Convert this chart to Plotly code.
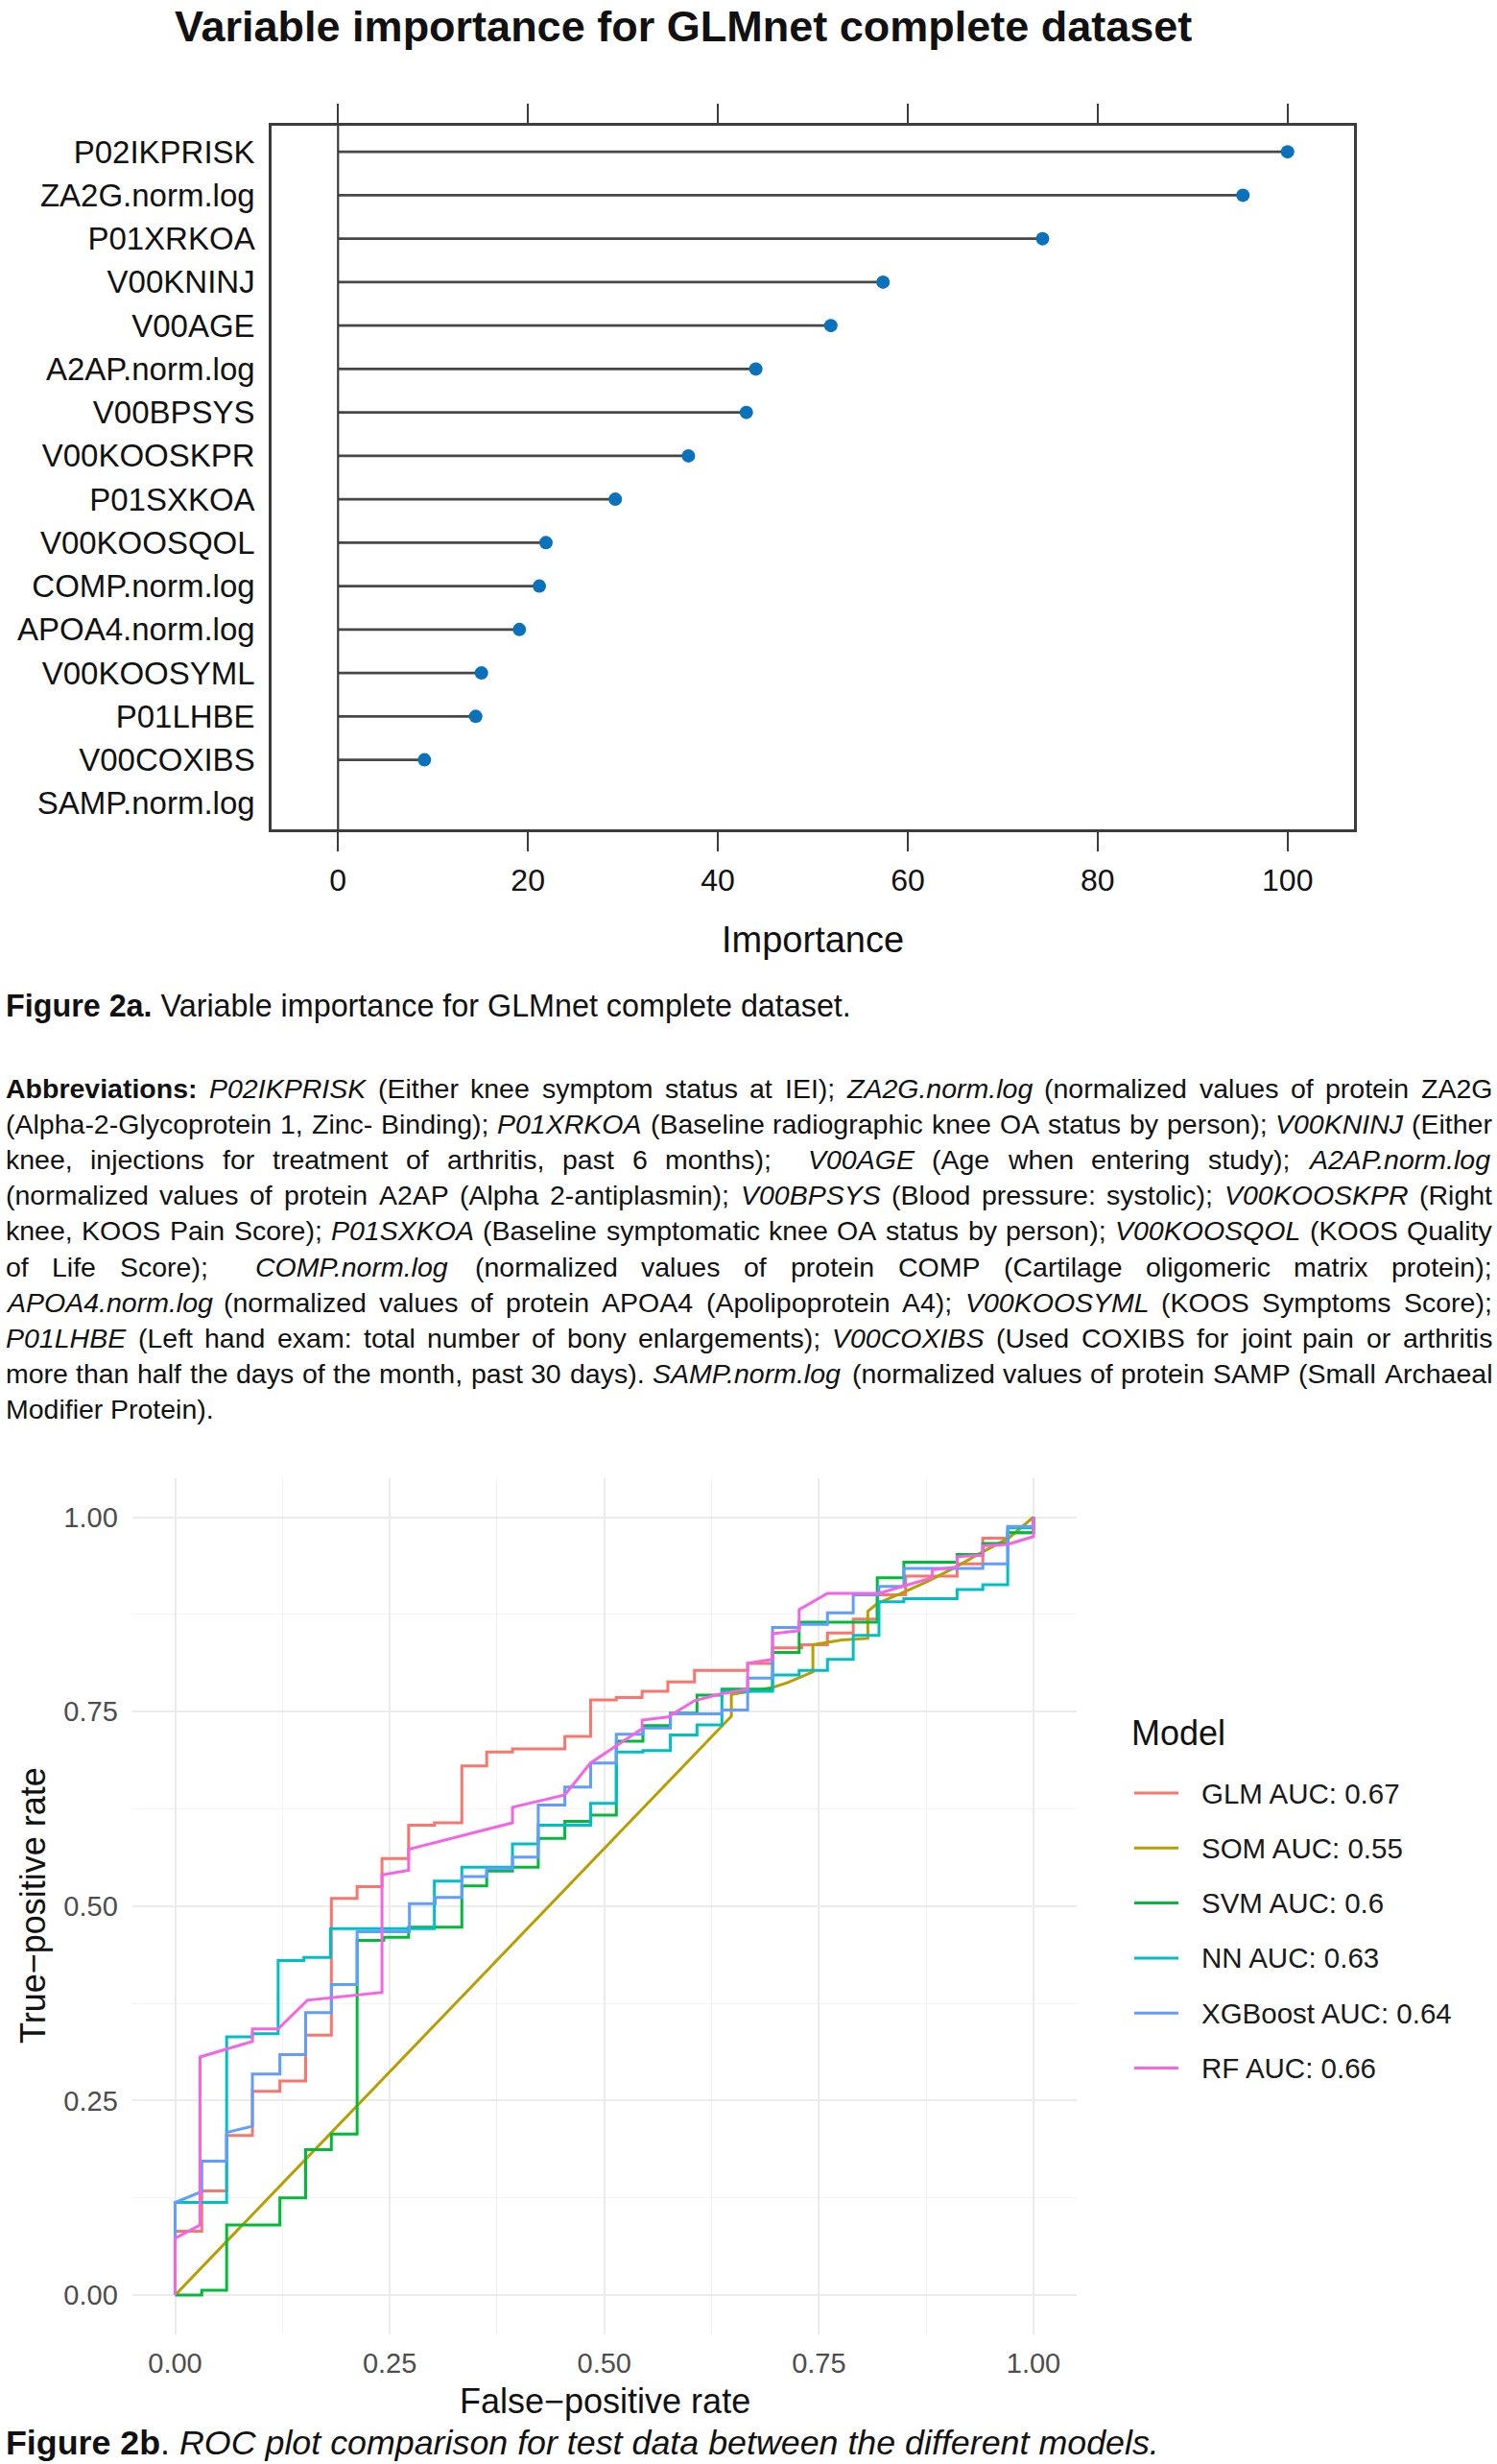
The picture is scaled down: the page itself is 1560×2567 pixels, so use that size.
import plotly.graph_objects as go

W, H = 1560, 2567

# ---------------- Data: variable importance (Figure 2a) ----------------
variables = ["P02IKPRISK", "ZA2G.norm.log", "P01XRKOA", "V00KNINJ", "V00AGE",
             "A2AP.norm.log", "V00BPSYS", "V00KOOSKPR", "P01SXKOA", "V00KOOSQOL",
             "COMP.norm.log", "APOA4.norm.log", "V00KOOSYML", "P01LHBE", "V00COXIBS",
             "SAMP.norm.log"]
importance = [100.0, 95.3, 74.2, 57.4, 51.9, 44.0, 43.0, 36.9, 29.2, 21.9,
              21.2, 19.1, 15.1, 14.5, 9.1, 0.0]
importance_ticks = [0, 20, 40, 60, 80, 100]

# ---------------- Data: ROC curves (Figure 2b) ----------------
model_names = ["GLM AUC: 0.67", "SOM AUC: 0.55", "SVM AUC: 0.6",
               "NN AUC: 0.63", "XGBoost AUC: 0.64", "RF AUC: 0.66"]

glm_fpr = [0, 0, .031, .031, .060, .060, .090, .090, .122, .122, .152, .152, .182, .182,
           .212, .212, .241, .241, .272, .272, .302, .302, .334, .334, .363, .363, .393, .393,
           .454, .454, .484, .484, .514, .514, .544, .544, .574, .574, .605, .605, .667, .667,
           .696, .696, .730, .730, .760, .760, .790, .790, .818, .818, .851, .851, .911, .911,
           .941, .941, .970, .970, 1.0, 1.0]
glm_tpr = [0, .082, .082, .134, .134, .205, .205, .262, .262, .275, .275, .334, .334, .510,
           .510, .525, .525, .561, .561, .604, .604, .607, .607, .680, .680, .698, .698, .702,
           .702, .718, .718, .765, .765, .768, .768, .776, .776, .788, .788, .803, .803, .812,
           .812, .832, .832, .836, .836, .851, .851, .869, .869, .900, .900, .924, .924, .940,
           .940, .973, .973, .980, .980, 1.0]

som_fpr = [0, .648, .648, .696, .713, .743, .743, .777, .807, .807, .818, .848, .878, .908,
           .937, .971, 1.0]
som_tpr = [0, .744, .772, .781, .787, .801, .836, .842, .844, .879, .889, .903, .918, .935,
           .953, .973, 1.0]

svm_fpr = [0, .031, .031, .060, .060, .122, .122, .152, .152, .182, .182, .212, .212, .243,
           .243, .272, .272, .334, .334, .363, .363, .393, .393, .423, .423, .454, .454, .484,
           .484, .514, .514, .545, .545, .577, .577, .608, .608, .637, .637, .696, .696, .727,
           .727, .818, .818, .849, .849, .911, .911, .941, .941, .970, .970, 1.0, 1.0]
svm_tpr = [0, 0, .006, .006, .090, .090, .125, .125, .187, .187, .207, .207, .456, .456,
           .460, .460, .473, .473, .526, .526, .545, .545, .550, .550, .587, .587, .609, .609,
           .617, .617, .712, .712, .732, .732, .748, .748, .771, .771, .779, .779, .826, .826,
           .865, .865, .922, .922, .942, .942, .952, .952, .966, .966, .980, .980, 1.0]

nn_fpr = [0, 0, .060, .060, .090, .090, .120, .120, .150, .150, .181, .181, .302, .302,
          .334, .334, .393, .393, .423, .423, .484, .484, .514, .514, .545, .545, .577, .577,
          .608, .608, .637, .637, .696, .696, .727, .727, .760, .760, .790, .790, .820, .820,
          .849, .849, .911, .911, .941, .941, .970, .970, 1.0, 1.0]
nn_tpr = [0, .119, .119, .332, .332, .336, .336, .430, .430, .434, .434, .471, .471, .532,
          .532, .550, .550, .580, .580, .604, .604, .632, .632, .698, .698, .700, .700, .720,
          .720, .733, .733, .776, .776, .797, .797, .803, .803, .817, .817, .848, .848, .891,
          .891, .895, .895, .907, .907, .913, .913, .986, .986, 1.0]

xgb_fpr = [0, 0, .031, .031, .060, .060, .090, .090, .122, .122, .152, .152, .182, .182,
           .212, .212, .273, .273, .303, .303, .334, .334, .363, .363, .393, .393, .423, .423,
           .454, .454, .484, .484, .514, .514, .545, .545, .577, .577, .637, .637, .667, .667,
           .696, .696, .727, .727, .760, .760, .790, .790, .820, .820, .849, .849, .941, .941,
           .970, .970, 1.0, 1.0]
xgb_tpr = [0, .119, .133, .172, .172, .209, .217, .284, .284, .309, .309, .363, .363, .399,
           .399, .467, .467, .503, .503, .511, .511, .538, .538, .548, .548, .563, .563, .630,
           .630, .653, .653, .684, .684, .721, .721, .729, .729, .747, .747, .752, .752, .793,
           .793, .858, .858, .862, .862, .877, .877, .900, .900, .911, .911, .934, .934, .940,
           .940, .988, .988, 1.0]

rf_fpr = [0, 0, .029, .029, .090, .090, .120, .154, .241, .241, .272, .272, .393, .393,
          .454, .484, .514, .544, .544, .574, .605, .633, .667, .667, .696, .696, .727, .727,
          .760, .820, .882, .882, .911, .911, .941, .941, .970, 1.0, 1.0]
rf_tpr = [0, .073, .090, .306, .326, .342, .342, .379, .389, .540, .546, .573, .607, .627,
          .643, .684, .706, .728, .739, .743, .764, .772, .779, .812, .817, .850, .854, .881,
          .902, .902, .922, .932, .936, .949, .951, .963, .965, .975, 1.0]

roc_fpr = [glm_fpr, som_fpr, svm_fpr, nn_fpr, xgb_fpr, rf_fpr]
roc_tpr = [glm_tpr, som_tpr, svm_tpr, nn_tpr, xgb_tpr, rf_tpr]
roc_ticks = [0, 0.25, 0.5, 0.75, 1.0]
roc_tick_labels = ["0.00", "0.25", "0.50", "0.75", "1.00"]
roc_minor_ticks = [0.125, 0.375, 0.625, 0.875]

# ---------------- Text ----------------
main_title = "Variable importance for GLMnet complete dataset"
caption_a = "<b>Figure 2a.</b> Variable importance for GLMnet complete dataset."
caption_b = "<b>Figure 2b</b>. <i>ROC plot comparison for test data between the different models.</i>"
abbrev_lines = [
    "**Abbreviations:** *P02IKPRISK* (Either knee symptom status at IEI); *ZA2G.norm.log* (normalized values of protein ZA2G",
    "(Alpha-2-Glycoprotein 1, Zinc- Binding); *P01XRKOA* (Baseline radiographic knee OA status by person); *V00KNINJ* (Either",
    "knee, injections for treatment of arthritis, past 6 months);  *V00AGE* (Age when entering study); *A2AP.norm.log*",
    "(normalized values of protein A2AP (Alpha 2-antiplasmin); *V00BPSYS* (Blood pressure: systolic); *V00KOOSKPR* (Right",
    "knee, KOOS Pain Score); *P01SXKOA* (Baseline symptomatic knee OA status by person); *V00KOOSQOL* (KOOS Quality",
    "of Life Score);  *COMP.norm.log* (normalized values of protein COMP (Cartilage oligomeric matrix protein);",
    "*APOA4.norm.log* (normalized values of protein APOA4 (Apolipoprotein A4); *V00KOOSYML* (KOOS Symptoms Score);",
    "*P01LHBE* (Left hand exam: total number of bony enlargements); *V00COXIBS* (Used COXIBS for joint pain or arthritis",
    "more than half the days of the month, past 30 days). *SAMP.norm.log* (normalized values of protein SAMP (Small Archaeal",
    "Modifier Protein).",
]

# ---------------- Styles ----------------
FONT = "Liberation Sans, Arial, sans-serif"
roc_colors = ["#F8766D", "#B79F00", "#00BA38", "#00BFC4", "#619CFF", "#F564E3"]
dot_color = "#0A72BA"
frame_color = "#3C3C3C"


def px(x):
    return x / W


def py(y):
    return 1 - y / H


# Arial / Liberation Sans metrics (1/1000 em), for justified paragraph layout
REG = {' ': 278, '(': 333, ')': 333, ',': 278, '-': 333, '.': 278, ':': 278, ';': 278}
for ch in "0123456789":
    REG[ch] = 556
REG.update(dict(zip("ABCDEFGHIJKLMNOPQRSTUVWXYZ",
                    [667, 667, 722, 722, 667, 611, 778, 722, 278, 500, 667, 556, 833, 722, 778,
                     667, 778, 722, 667, 611, 722, 667, 944, 667, 667, 611])))
REG.update(dict(zip("abcdefghijklmnopqrstuvwxyz",
                    [556, 556, 500, 556, 556, 278, 556, 556, 222, 222, 500, 222, 833, 556, 556,
                     556, 556, 333, 500, 278, 556, 500, 722, 500, 500, 500])))
BOLD = dict(REG)
BOLD.update({':': 333, ';': 333})
BOLD.update(dict(zip("ABCDEFGHIJKLMNOPQRSTUVWXYZ",
                     [722, 722, 722, 722, 667, 611, 778, 722, 278, 556, 722, 611, 833, 722, 778,
                      667, 778, 722, 667, 611, 722, 667, 944, 667, 667, 611])))
BOLD.update(dict(zip("abcdefghijklmnopqrstuvwxyz",
                     [556, 611, 556, 611, 556, 333, 611, 611, 278, 278, 556, 278, 889, 611, 611,
                      611, 611, 389, 556, 333, 611, 556, 778, 556, 556, 500])))


def text_width(s, bold, size):
    table = BOLD if bold else REG
    return sum(table.get(c, 556) for c in s) * size / 1000.0


fig = go.Figure()

# ---------------- Figure 2a: dot plot ----------------
seg_x, seg_y = [], []
for v, val in zip(variables, importance):
    seg_x += [0, val, None]
    seg_y += [v, v, None]
fig.add_trace(go.Scatter(x=seg_x, y=seg_y, mode="lines",
                         line=dict(color="#474747", width=2.8),
                         xaxis="x", yaxis="y", showlegend=False, hoverinfo="skip"))
fig.add_trace(go.Scatter(x=importance[:-1], y=variables[:-1], mode="markers",
                         marker=dict(color=dot_color, size=14),
                         xaxis="x", yaxis="y", showlegend=False))

# ---------------- Figure 2b: ROC ----------------
for name, fx, ty, col in zip(model_names, roc_fpr, roc_tpr, roc_colors):
    fig.add_trace(go.Scatter(x=fx, y=ty, mode="lines", name=name,
                             line=dict(color=col, width=3),
                             xaxis="x2", yaxis="y2", showlegend=False))

fig.update_layout(
    width=W, height=H,
    margin=dict(l=0, r=0, t=0, b=0),
    paper_bgcolor="white", plot_bgcolor="white",
    font=dict(family=FONT, color="#111111"),
    xaxis=dict(domain=[px(283), px(1411)], range=[-7, 107], tickvals=importance_ticks,
               ticks="outside", ticklen=20, tickwidth=2, tickcolor=frame_color,
               showline=True, linecolor=frame_color, linewidth=2.5, mirror="ticks",
               showgrid=False, zeroline=False, anchor="y",
               tickfont=dict(size=32, color="#111111"), ticklabelstandoff=3),
    yaxis=dict(domain=[py(864), py(131)], type="category",
               categoryorder="array", categoryarray=variables[::-1],
               range=[-0.6, 15.6], showline=True, linecolor=frame_color, linewidth=2.5,
               mirror=True, ticks="", showgrid=False, zeroline=False, anchor="x",
               tickfont=dict(size=33, color="#111111"), ticklabelstandoff=8),
    xaxis2=dict(domain=[px(137.8), px(1121.7)], range=[-0.05, 1.05],
                tickvals=roc_ticks, ticktext=roc_tick_labels, ticks="",
                showgrid=True, gridcolor="#EBEBEB", gridwidth=2.2,
                minor=dict(tickvals=roc_minor_ticks, showgrid=True, gridcolor="#F3F3F3", gridwidth=1.4),
                showline=False, zeroline=False, anchor="y2",
                tickfont=dict(size=29, color="#4D4D4D"), ticklabelstandoff=10),
    yaxis2=dict(domain=[py(2431.5), py(1540)], range=[-0.05, 1.05],
                tickvals=roc_ticks, ticktext=roc_tick_labels, ticks="",
                showgrid=True, gridcolor="#EBEBEB", gridwidth=2.2,
                minor=dict(tickvals=roc_minor_ticks, showgrid=True, gridcolor="#F3F3F3", gridwidth=1.4),
                showline=False, zeroline=False, anchor="x2",
                tickfont=dict(size=29, color="#4D4D4D"), ticklabelstandoff=14),
)

# vertical reference line at zero importance
fig.add_shape(type="line", xref="x", yref="y domain", x0=0, x1=0, y0=0, y1=1,
              line=dict(color=frame_color, width=2.2))

ann = []
# titles and captions
ann.append(dict(text="<b>" + main_title + "</b>", x=px(712), y=py(28), xanchor="center",
                yanchor="middle", font=dict(size=45, color="#111111")))
ann.append(dict(text="Importance", x=px(847), y=py(979), xanchor="center", yanchor="middle",
                font=dict(size=38, color="#111111")))
ann.append(dict(text=caption_a, x=px(4), y=py(1048), xanchor="left", yanchor="middle",
                font=dict(size=32.3, color="#111111")))
ann.append(dict(text=caption_b, x=px(4), y=py(2545), xanchor="left", yanchor="middle",
                font=dict(size=35.8, color="#111111")))
ann.append(dict(text="False\u2212positive rate", x=px(630), y=py(2501), xanchor="center",
                yanchor="middle", font=dict(size=36, color="#111111")))
ann.append(dict(text="True\u2212positive rate", x=px(34), y=py(1985), xanchor="center",
                yanchor="middle", textangle=-90, font=dict(size=36, color="#111111")))

# legend (drawn manually to match ggplot layout)
ann.append(dict(text="Model", x=px(1177), y=py(1806), xanchor="left", yanchor="middle",
                font=dict(size=36, color="#111111")))
for i, (name, col) in enumerate(zip(model_names, roc_colors)):
    yy = 1868 + 57.3 * i
    fig.add_shape(type="line", xref="paper", yref="paper", x0=px(1182), x1=px(1228),
                  y0=py(yy), y1=py(yy), line=dict(color=col, width=3))
    ann.append(dict(text=name, x=px(1250), y=py(yy), xanchor="left", yanchor="middle",
                    font=dict(size=29.5, color="#1A1A1A")))

# justified abbreviation paragraph
PSIZE = 28.5
LEFT, RIGHT = 5, 1554
line_y0, line_dy = 1134, 37.1
for li, line in enumerate(abbrev_lines):
    parts = line.split(" ")
    words, gaps = [], []
    pending = 0
    for p in parts:
        if p == "":
            pending += 1
            continue
        if words:
            gaps.append(1 + pending)
        pending = 0
        if p.startswith("**") and p.endswith("**"):
            words.append((p[2:-2], "b"))
        elif p.startswith("*") and p.endswith("*"):
            words.append((p[1:-1], "i"))
        else:
            words.append((p, "r"))
    widths = [text_width(w, s == "b", PSIZE) for w, s in words]
    last = li == len(abbrev_lines) - 1
    if last or not gaps:
        unit = 278 * PSIZE / 1000.0
    else:
        unit = (RIGHT - LEFT - sum(widths)) / sum(gaps)
    x = LEFT
    yy = line_y0 + line_dy * li
    for k, ((w, s), wd) in enumerate(zip(words, widths)):
        t = w.replace("<", "&lt;")
        if s == "b":
            t = "<b>" + t + "</b>"
        elif s == "i":
            t = "<i>" + t + "</i>"
        ann.append(dict(text=t, x=px(x - 1), y=py(yy), xanchor="left", yanchor="middle",
                        font=dict(size=PSIZE, color="#111111")))
        if k < len(gaps):
            x += wd + unit * gaps[k]

for a in ann:
    a.update(xref="paper", yref="paper", showarrow=False)
fig.update_layout(annotations=ann)

fig.write_html("out.html", config={"displayModeBar": False},
               post_script="document.body.style.margin='0px';")
